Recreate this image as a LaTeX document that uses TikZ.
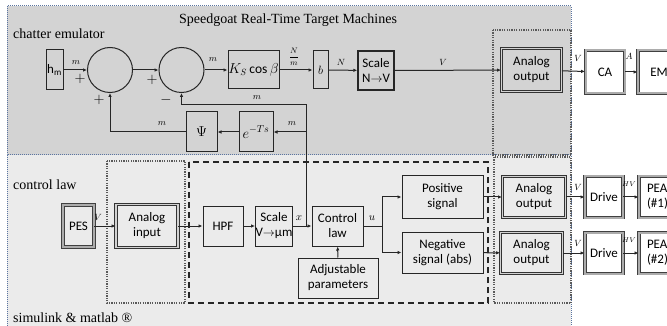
\documentclass[tikz,border=0pt]{standalone}
\usepackage{fontspec}
\setmainfont{Carlito}
\newfontfamily\tnr{Liberation Serif}
\usetikzlibrary{arrows.meta}
\definecolor{topbg}{HTML}{D3D3D3}
\definecolor{botbg}{HTML}{EBEBEB}
\definecolor{panelbd}{HTML}{5A74A0}
\begin{document}
\begin{tikzpicture}[x=1pt,y=-1pt,
  box/.style={draw=black!85, line width=1pt, inner sep=0pt, align=center, font=\fontsize{13}{15}\selectfont},
  dbox/.style={box, draw=black!80, double=gray!35, double distance=1.6pt, line width=0.9pt},
  wbox/.style={box, fill=white, draw=black!75, double=gray!65, double distance=2pt, line width=0.9pt},
  sumc/.style={circle, draw=black!85, line width=1pt, minimum size=45pt, inner sep=0pt},
  lab/.style={font=\fontsize{9}{9}\selectfont, inner sep=0pt},
  sgn/.style={font=\fontsize{15}{15}\selectfont, inner sep=0pt},
  conn/.style={draw=black!85, line width=1pt, -{Latex[length=4pt,width=3.5pt]}},
  wire/.style={draw=black!85, line width=1pt},
  region/.style={draw=gray!70!black, line width=2pt, dash pattern=on 1.2pt off 1.2pt},
  panel/.style={draw=panelbd, line width=1pt, dash pattern=on 1pt off 1pt},
  ttl/.style={font=\tnr\fontsize{14}{16}\selectfont, inner sep=0pt, anchor=west}
]
\useasboundingbox (0,0) rectangle (667,326);
% panels
\path[panel, fill=topbg] (7,6) rectangle (571,155);
\path[panel, fill=botbg] (7,155) rectangle (571,332);
\node[ttl, anchor=center] (title) at (288,20) {Speedgoat Real-Time Target Machines};
\node[ttl] (chat) at (13,34) {chatter emulator};
\node[ttl] (ctrl) at (13,185) {control law};
\node[ttl] (sim) at (13,318) {simulink \& matlab ®};
% regions
\draw[region] (493,30) rectangle (571,155);
\draw[region] (107,161) rectangle (185,303);
\draw[region] (494,157) rectangle (571,303);
\draw[black!85, line width=1.2pt, dash pattern=on 6pt off 4pt] (189,162) rectangle (488,303);

% top row
\node[box, minimum width=17pt, minimum height=40pt] (hm) at (54.5,70) {h\textsubscript{m}};
\node[sumc] (c1) at (110,70) {};
\node[sumc] (c2) at (181.5,70) {};
\node[box, minimum width=51pt, minimum height=38pt, font=\fontsize{13.5}{15}\selectfont] (K) at (253.5,70) {$K_S\cos\beta$};
\node[box, minimum width=15pt, minimum height=38pt] (b) at (320.5,70) {$b$};
\node[box, line width=1.4pt, minimum width=36pt, minimum height=39pt] (sNV) at (376,70.5) {Scale\\N$\rightarrow$V};
\node[dbox, minimum width=60pt, minimum height=43pt] (AO1) at (531.5,70) {Analog\\output};
\node[wbox, minimum width=39pt, minimum height=43pt] (CA) at (605,72) {CA};
\node[wbox, minimum width=42pt, minimum height=43pt] (EM) at (659,72) {EM};
\node[box, minimum width=34pt, minimum height=40pt, font=\fontsize{14}{15}\selectfont] (eT) at (256,132) {$e^{-Ts}$};
\node[box, minimum width=31pt, minimum height=40pt, font=\fontsize{14}{15}\selectfont] (Psi) at (201.5,132) {$\Psi$};

\draw[conn] (hm) -- (c1);
\draw[conn] (c1) -- (c2);
\draw[conn] (c2) -- (K);
\draw[conn] (K) -- (b);
\draw[conn] (b) -- (sNV);
\draw[conn] (sNV) -- (AO1);
\draw[conn] (AO1) -- (CA);
\draw[conn] (CA) -- (EM);

\node[lab] (l1) at (76,63) {$m$};
\node[sgn] (p1) at (80,79) {$+$};
\node[sgn] (p2) at (152,80) {$+$};
\node[sgn] (p3) at (99,100) {$+$};
\node[sgn] (p4) at (166,100) {$-$};
\node[lab] (l2) at (213,60) {$m$};
\node[lab, font=\fontsize{8}{8}\selectfont] (l3) at (294,57) {$\displaystyle\frac{N}{m}$};
\node[lab] (l4) at (341,62) {$N$};
\node[lab] (l5) at (443,62) {$V$};
\node[lab] (l6) at (578,58) {$V$};
\node[lab] (l7) at (629,56) {$A$};
\node[lab] (l8) at (257,98) {$m$};
\node[lab] (l9) at (292,124) {$m$};
\node[lab] (l10) at (162,124) {$m$};

% bottom row
\node[wbox, fill=none, minimum width=31pt, minimum height=42pt] (PES) at (78.5,226) {PES};
\node[dbox, minimum width=62pt, minimum height=43pt] (AI) at (147,226) {Analog\\input};
\node[box, minimum width=40pt, minimum height=40pt] (HPF) at (223,226) {HPF};
\node[box, minimum width=36pt, minimum height=40pt] (sVum) at (274,226) {Scale\\V$\rightarrow$µm};
\node[box, minimum width=51pt, minimum height=40pt] (CL) at (337.5,226) {Control\\law};
\node[box, minimum width=80pt, minimum height=40pt] (AP) at (338,278) {Adjustable\\parameters};
\node[box, minimum width=81pt, minimum height=42pt] (PS) at (442.5,197) {Positive\\signal};
\node[box, minimum width=81pt, minimum height=41pt] (NS) at (442.5,252.5) {Negative\\signal (abs)};
\node[dbox, minimum width=63pt, minimum height=41pt] (AO2) at (534,197) {Analog\\output};
\node[dbox, minimum width=62pt, minimum height=41pt] (AO3) at (531.5,253) {Analog\\output};
\node[wbox, minimum width=38pt, minimum height=41pt] (D1) at (604,197) {Drive};
\node[wbox, minimum width=38pt, minimum height=41pt] (D2) at (604,253) {Drive};
\node[wbox, minimum width=42pt, minimum height=41pt, align=left, text width=26pt] (P1) at (660,197) {PEA\\(\#1)};
\node[wbox, minimum width=42pt, minimum height=41pt, align=left, text width=26pt] (P2) at (660,253) {PEA\\(\#2)};

\coordinate (xj) at (306,226);
\coordinate (fbtop) at (306,105);
\coordinate (br) at (306,132);
\coordinate (uj) at (382,226);

\draw[conn] (PES) -- (AI);
\draw[conn] (AI) -- (HPF);
\draw[conn] (HPF) -- (sVum);
\draw[conn] (sVum) -- (CL);
\draw[conn] (AP) -- (CL);
\draw[wire] (CL.east) -- (uj);
\draw[conn] (uj) |- (PS.west);
\draw[conn] (uj) |- (NS.west);
\draw[conn] (PS) -- (AO2);
\draw[conn] (NS) -- (AO3);
\draw[conn] (AO2) -- (D1);
\draw[conn] (AO3) -- (D2);
\draw[conn] (D1) -- (P1);
\draw[conn] (D2) -- (P2);

% feedback
\draw[conn] (xj) -- (fbtop) -| (c2.south);
\draw[conn] (br) -- (eT.east);
\draw[conn] (eT) -- (Psi);
\draw[conn] (Psi.west) -| (c1.south);

\node[lab] (v1) at (98,217) {$V$};
\node[lab, font=\fontsize{11}{11}\selectfont] (xl) at (299,218) {$x$};
\node[lab, font=\fontsize{11}{11}\selectfont] (ul) at (372,218) {$u$};
\node[lab] (v2) at (578,187) {$V$};
\node[lab] (v3) at (578,243) {$V$};
\node[lab, font=\fontsize{7}{7}\selectfont] (hv1) at (629,184) {$HV$};
\node[lab, font=\fontsize{7}{7}\selectfont] (hv2) at (629,240) {$HV$};
\end{tikzpicture}
\end{document}
